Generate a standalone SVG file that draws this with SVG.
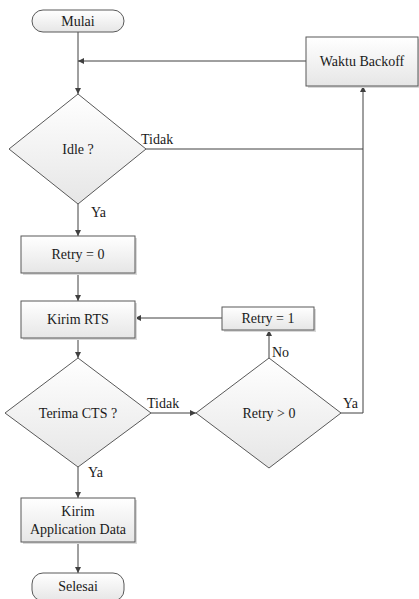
<svg xmlns="http://www.w3.org/2000/svg" width="419" height="599" viewBox="0 0 419 599">
<defs>
<linearGradient id="g" x1="0" y1="0" x2="0" y2="1">
<stop offset="0" stop-color="#ffffff"/>
<stop offset="1" stop-color="#e6e6e6"/>
</linearGradient>
<marker id="ah" viewBox="0 0 10 10" refX="10" refY="5" markerWidth="6" markerHeight="6" markerUnits="userSpaceOnUse" orient="auto">
<path d="M0,0 L10,5 L0,10 z" fill="#404040"/>
</marker>
<style>
.s{fill:url(#g);stroke:#595959;stroke-width:1}
.sh{fill:#d9d9d9;stroke:none}
.t{font-family:'Liberation Serif',Tinos,'DejaVu Serif',serif;font-size:14px;fill:#1a1a1a;text-anchor:middle}
.l{font-family:'Liberation Serif',Tinos,'DejaVu Serif',serif;font-size:14px;fill:#1a1a1a}
.c{fill:none;stroke:#404040;stroke-width:1}
</style>
</defs>
<rect width="419" height="599" fill="#ffffff"/>
<g id="connectors">
<path class="c" d="M78,32 V94" marker-end="url(#ah)"/>
<path class="c" d="M306,61 H78" marker-end="url(#ah)"/>
<path class="c" d="M146,149 H363"/>
<path class="c" d="M78,204 V236" marker-end="url(#ah)"/>
<path class="c" d="M78,273 V301" marker-end="url(#ah)"/>
<path class="c" d="M78,338 V358" marker-end="url(#ah)"/>
<path class="c" d="M151,413 H196" marker-end="url(#ah)"/>
<path class="c" d="M269,358 V330" marker-end="url(#ah)"/>
<path class="c" d="M222,318 H135" marker-end="url(#ah)"/>
<path class="c" d="M341,413 H363 V86" marker-end="url(#ah)"/>
<path class="c" d="M78,467 V498" marker-end="url(#ah)"/>
<path class="c" d="M78,542 V573" marker-end="url(#ah)"/>
<text class="l" x="141" y="144">Tidak</text>
<text class="l" x="91" y="217">Ya</text>
<text class="l" x="147" y="408">Tidak</text>
<text class="l" x="272" y="357">No</text>
<text class="l" x="343" y="408">Ya</text>
<text class="l" x="88" y="477">Ya</text>
</g>
<g id="mulai">
<rect class="s" x="32" y="10" width="92" height="22" rx="11" ry="11"/>
<text class="t" x="78" y="26">Mulai</text>
</g>
<g id="waktu-backoff">
<rect class="sh" x="308" y="39" width="111" height="49"/>
<rect class="s" x="306" y="37" width="112" height="49"/>
<text class="t" x="362" y="66">Waktu Backoff</text>
</g>
<g id="idle">
<path class="s" d="M78,94 L146,149 L78,204 L9,149 Z"/>
<text class="t" x="78" y="154">Idle ?</text>
</g>
<g id="retry0">
<rect class="sh" x="23" y="238" width="114" height="37"/>
<rect class="s" x="21" y="236" width="114" height="37"/>
<text class="t" x="78" y="259">Retry = 0</text>
</g>
<g id="kirim-rts">
<rect class="sh" x="23" y="303" width="114" height="37"/>
<rect class="s" x="21" y="301" width="114" height="37"/>
<text class="t" x="78" y="324">Kirim RTS</text>
</g>
<g id="retry1">
<rect class="sh" x="224" y="309" width="92" height="23"/>
<rect class="s" x="222" y="307" width="92" height="23"/>
<text class="t" x="268" y="323">Retry = 1</text>
</g>
<g id="terima-cts">
<path class="s" d="M78,358 L151,413 L78,467 L5,413 Z"/>
<text class="t" x="78" y="418">Terima CTS ?</text>
</g>
<g id="retry-gt0">
<path class="s" d="M269,358 L341,413 L269,468 L196,413 Z"/>
<text class="t" x="269" y="418">Retry &gt; 0</text>
</g>
<g id="kirim-app">
<rect class="sh" x="23" y="500" width="114" height="44"/>
<rect class="s" x="21" y="498" width="114" height="44"/>
<text class="t" x="78" y="516">Kirim</text>
<text class="t" x="78" y="534">Application Data</text>
</g>
<g id="selesai">
<rect class="s" x="32" y="573" width="92" height="28" rx="11" ry="11"/>
<text class="t" x="78" y="591">Selesai</text>
</g>
</svg>
